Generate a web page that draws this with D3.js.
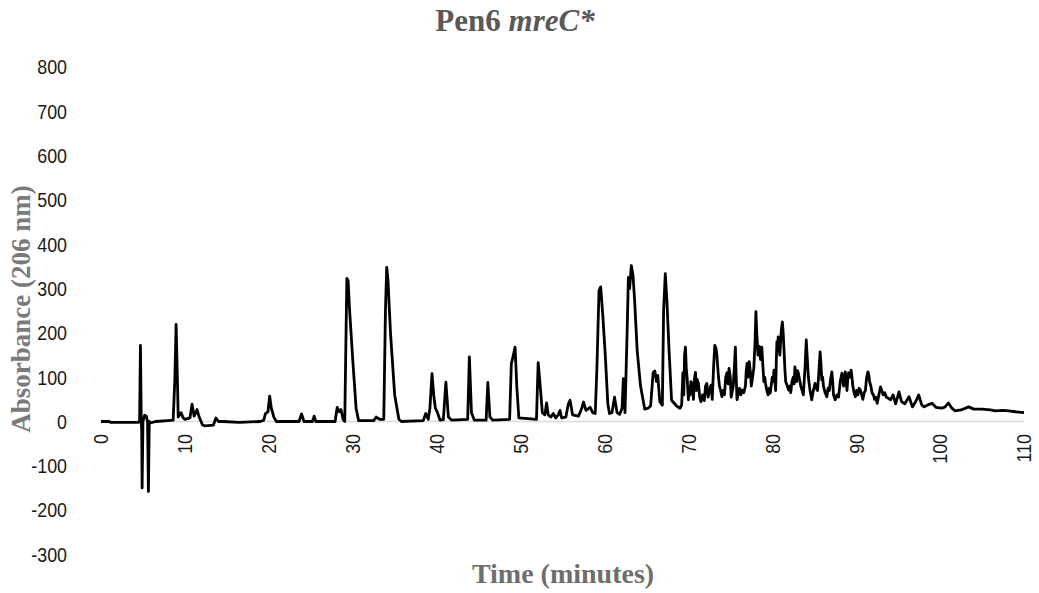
<!DOCTYPE html>
<html>
<head>
<meta charset="utf-8">
<script src="https://cdn.jsdelivr.net/npm/d3@7"></script>
<style>
  body { margin: 0; background: #fff; }
  svg { display: block; }
</style>
</head>
<body>
<svg id="chart"></svg>
<script>
// retention time (minutes) and absorbance at 206 nm
const timeMin = [
  0, 1.0, 1.1, 4.5, 4.6, 4.7, 4.8, 4.85, 4.9, 5.0, 5.2, 5.4, 5.55, 5.65, 5.75, 5.9, 6.5, 8.0, 8.6, 8.8,
  8.95, 9.1, 9.2, 9.55, 9.8, 10.0, 10.6, 10.85, 11.1, 11.45, 11.7, 12.1, 12.4, 13.4, 13.7, 14.0, 14.5, 16.5, 19.0, 19.4,
  19.6, 19.9, 20.1, 20.3, 20.6, 20.9, 23.6, 23.9, 24.2, 25.2, 25.4, 25.6, 27.9, 28.15, 28.4, 28.6, 28.85, 29.05, 29.3, 29.45,
  29.6, 30.0, 30.4, 30.7, 32.5, 32.8, 33.2, 33.7, 33.9, 34.05, 34.2, 34.5, 35.0, 35.5, 35.8, 38.4, 38.7, 39.0, 39.2, 39.45,
  39.65, 39.85, 40.1, 40.4, 40.8, 41.1, 41.4, 41.8, 43.7, 43.9, 44.15, 44.5, 45.9, 46.1, 46.35, 46.7, 48.7, 48.9, 49.1, 49.35,
  49.55, 49.8, 51.9, 52.1, 52.3, 52.6, 52.9, 53.1, 53.3, 53.6, 53.9, 54.2, 54.5, 54.7, 54.9, 55.4, 55.7, 55.9, 56.2, 56.9,
  57.3, 57.5, 57.8, 58.3, 58.6, 58.9, 59.1, 59.35, 59.55, 59.8, 60.1, 60.4, 60.6, 60.9, 61.2, 61.5, 61.8, 62.1, 62.25, 62.45,
  62.7, 62.85, 63.0, 63.2, 63.4, 63.6, 63.9, 64.3, 64.8, 65.2, 65.5, 65.8, 66.0, 66.2, 66.35, 66.6, 66.9, 67.05, 67.25, 67.45,
  67.7, 68.0,
  68.6, 69.0, 69.2, 69.35, 69.45, 69.55, 69.65, 69.75, 69.85, 70.0,
  70.1, 70.2, 70.3, 70.45, 70.6, 70.75, 70.85, 70.95, 71.05, 71.2,
  71.35, 71.5, 71.7, 71.9, 72.05, 72.2, 72.35, 72.5, 72.7, 72.85,
  73.0, 73.15, 73.3, 73.4, 73.55, 73.7, 73.85, 74.0, 74.15, 74.3,
  74.45, 74.6, 74.75, 74.85, 75.0, 75.1, 75.25, 75.35, 75.5, 75.6,
  75.7, 75.8, 75.95, 76.1, 76.25, 76.4, 76.6, 76.8, 76.9, 77.0,
  77.1, 77.25, 77.4, 77.5, 77.65, 77.8, 77.95, 78.05, 78.15, 78.3,
  78.4, 78.5, 78.6, 78.75, 78.9, 79.0, 79.1, 79.2, 79.35, 79.5,
  79.65, 79.75, 79.9, 80.0, 80.1, 80.2, 80.3, 80.4, 80.5, 80.55,
  80.65, 80.7, 80.8, 80.9, 81.05, 81.2, 81.3, 81.4, 81.5, 81.6,
  81.8, 81.95, 82.1, 82.2, 82.35, 82.5, 82.6, 82.7, 82.8, 82.9,
  83.0, 83.1, 83.25, 83.4, 83.55, 83.7, 83.9, 84.05, 84.15, 84.3,
  84.4, 84.5, 84.6, 84.7, 84.9, 85.1, 85.25, 85.4, 85.55, 85.7,
  85.8, 85.9, 86.0, 86.1, 86.3, 86.5, 86.65, 86.8, 86.95, 87.1,
  87.2, 87.3, 87.5, 87.7, 87.9, 88.1, 88.3, 88.4, 88.5, 88.6,
  88.7, 88.8, 88.9, 89.0, 89.1, 89.25, 89.4, 89.5, 89.6, 89.75,
  89.9, 90.05, 90.2, 90.35, 90.5, 90.65, 90.8, 90.95, 91.1, 91.25,
  91.4, 91.5, 91.6, 91.75, 91.9, 92.05, 92.2, 92.35, 92.5, 92.7,
  92.9, 93.05, 93.2, 93.4, 93.6,
  94.1, 94.4, 94.7, 95.1, 95.4, 95.8, 96.3, 96.7, 97.1, 97.45,
  97.8, 98.05, 98.6, 99.05, 99.5, 100.2, 100.6, 101.0, 101.4, 101.8,
  102.5, 103.4, 104.0, 105.0, 106.0, 106.6, 107.5, 108.2, 109.0, 110.0
];
const absorbance = [
  0, 0, -2, -2, 0, 172, 0, -20, -150, 0, 14, 12, 0, -158, 0, -3, 0, 2, 3, 95,
  219, 100, 10, 20, 8, 5, 8, 39, 12, 27, 10, -8, -10, -8, 8, 0, 0, -2, 0, 3,
  18, 22, 57, 30, 10, 0, 0, 17, 0, 0, 12, 0, 0, 32, 22, 27, 5, 0, 323, 318,
  260, 140, 30, 2, 2, 10, 5, 5, 250, 348, 320, 200, 60, 5, 0, 2, 18, 5, 30, 108,
  60, 30, 20, 3, 4, 89, 10, 3, 5, 146, 20, 3, 3, 88, 10, 3, 5, 130, 146, 168,
  80, 8, 5, 133, 90, 20, 15, 42, 15, 10, 18, 8, 15, 25, 8, 10, 40, 48, 15, 12,
  30, 44, 25, 32, 20, 18, 120, 295, 304, 240, 150, 40, 18, 20, 55, 20, 16, 30, 97, 20,
  200, 325, 300, 352, 330, 272, 160, 80, 28, 30, 35, 110, 114, 90, 104, 45, 37, 250, 334, 270,
  160, 48,
  35, 30, 37, 110, 60, 150, 168, 120, 100, 49,
  75, 60, 90, 86, 50, 100, 111, 70, 95, 86,
  55, 45, 60, 47, 80, 86, 55, 70, 82, 50,
  120, 172, 165, 150, 110, 80, 70, 56, 70, 60,
  100, 110, 85, 120, 100, 55, 70, 80, 130, 168,
  100, 49, 65, 75, 60, 71, 65, 80, 115, 131,
  100, 135, 110, 80, 100, 120, 180, 248, 200, 150,
  170, 168, 140, 168, 120, 90, 100, 86, 70, 60,
  75, 64, 85, 100, 90, 116, 95, 70, 150, 180,
  160, 191, 175, 150, 200, 225, 200, 161, 120, 90,
  80, 71, 80, 65, 90, 100, 85, 123, 100, 90,
  115, 110, 95, 80, 70, 60, 120, 184, 150, 101,
  85, 70, 60, 49, 70, 86, 75, 70, 110, 157,
  130, 94, 100, 80, 65, 56, 75, 70, 95, 112,
  90, 60, 49, 60, 55, 90, 109, 95, 80, 100,
  112, 95, 70, 95, 110, 100, 116, 100, 80, 65,
  56, 70, 60, 75, 71, 60, 50, 65, 70, 100,
  112, 105, 90, 80, 64, 60, 50, 55, 41, 60,
  78, 70, 60, 65, 55,
  49, 60, 40, 67, 45, 40, 56, 33, 45, 60,
  38, 33, 38, 41, 32, 30, 33, 42, 30, 24,
  26, 33, 28, 28, 26, 24, 25, 24, 22, 20
];
const xTicks = [0, 10, 20, 30, 40, 50, 60, 70, 80, 90, 100, 110];
const yTicks = [-300, -200, -100, 0, 100, 200, 300, 400, 500, 600, 700, 800];

const width = 1039, height = 593;
const svg = d3.select("#chart").attr("width", width).attr("height", height);

const x = d3.scaleLinear().domain([0, 110]).range([101, 1024]);
const y = d3.scaleLinear().domain([-300, 800]).range([554.4, 67.1]);

const serif = "'Liberation Serif', 'Times New Roman', serif";
const sans = "'Liberation Sans', Arial, sans-serif";

// title
const title = svg.append("text")
    .attr("x", 515).attr("y", 31)
    .attr("text-anchor", "middle")
    .attr("font-family", serif).attr("font-weight", "bold")
    .attr("font-size", 31).attr("fill", "#595959");
title.append("tspan").text("Pen6 ");
title.append("tspan").attr("font-style", "italic").text("mreC*");

// zero line
svg.append("line")
    .attr("x1", x(0)).attr("x2", x(110))
    .attr("y1", y(0)).attr("y2", y(0))
    .attr("stroke", "#d9d9d9").attr("stroke-width", 1.5);

// y tick labels (squeezed, the source font is a narrow one)
svg.selectAll(".ylab")
    .data(yTicks)
    .enter().append("text")
    .attr("class", "ylab")
    .attr("transform", d => "translate(67," + y(d) + ") scale(0.85,1)")
    .attr("dy", "0.35em")
    .attr("text-anchor", "end")
    .attr("font-family", sans).attr("font-size", 21)
    .attr("fill", "#1a1a1a")
    .text(d => d);

// x tick labels, rotated
svg.selectAll(".xlab")
    .data(xTicks)
    .enter().append("text")
    .attr("class", "xlab")
    .attr("transform", d => "translate(" + x(d) + ",434) rotate(-90) scale(0.85,1)")
    .attr("dy", "0.35em")
    .attr("text-anchor", "end")
    .attr("font-family", sans).attr("font-size", 21)
    .attr("fill", "#1a1a1a")
    .text(d => d);

// axis titles
svg.append("text")
    .attr("transform", "translate(30,309) rotate(-90)")
    .attr("text-anchor", "middle")
    .attr("font-family", serif).attr("font-weight", "bold")
    .attr("font-size", 27).attr("fill", "#7a7a7a")
    .text("Absorbance (206 nm)");

svg.append("text")
    .attr("x", 563).attr("y", 583)
    .attr("text-anchor", "middle")
    .attr("font-family", serif).attr("font-weight", "bold")
    .attr("font-size", 28).attr("fill", "#6e6e6e")
    .text("Time (minutes)");

// chromatogram trace
const line = d3.line()
    .x(i => x(timeMin[i]))
    .y(i => y(absorbance[i]));

svg.append("path")
    .datum(d3.range(Math.min(timeMin.length, absorbance.length)))
    .attr("d", line)
    .attr("fill", "none")
    .attr("stroke", "#000")
    .attr("stroke-width", 2.8)
    .attr("stroke-linejoin", "round");
</script>
</body>
</html>
